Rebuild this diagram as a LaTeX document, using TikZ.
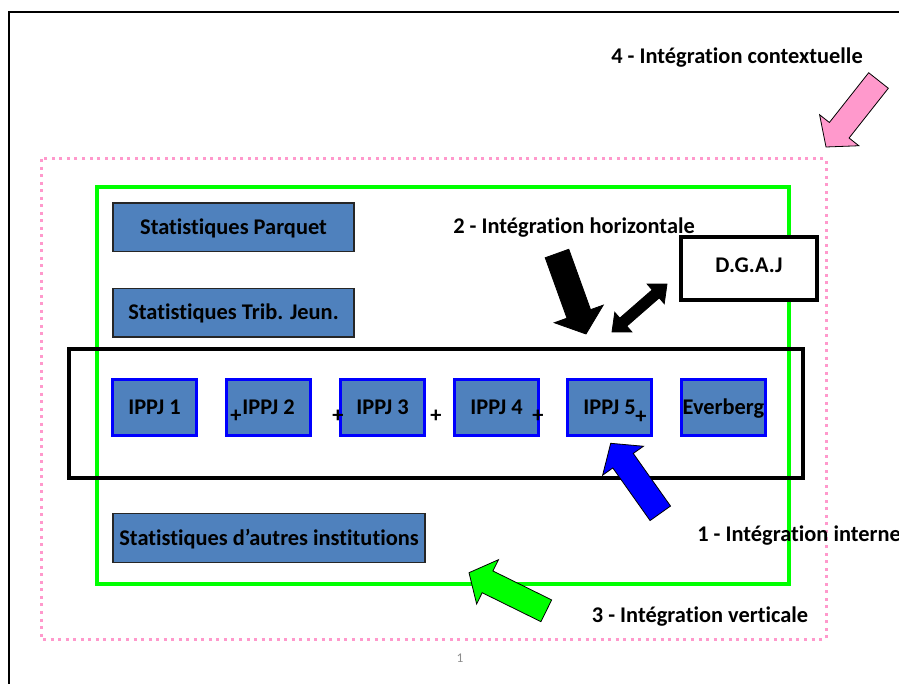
\documentclass[tikz,border=0pt]{standalone}
\usepackage{fontspec}
\setmainfont{Carlito}[Ligatures=NoCommon]
\usetikzlibrary{calc}
\definecolor{boxblue}{RGB}{79,129,189}
\definecolor{pinkd}{RGB}{255,153,204}
\definecolor{lgreen}{RGB}{0,255,0}
\definecolor{ippjblue}{RGB}{0,0,255}
% block arrow: #1 tail, #2 tip, #3 shaft half width, #4 head half width, #5 head length, #6 style
\newcommand\blkarrow[6]{%
  \coordinate (bh) at ($(#2)!#5!(#1)$);
  \draw[#6] ($(#1)!#3!90:(#2)$) -- ($(bh)!#3!-90:(#1)$) -- ($(bh)!#4!-90:(#1)$) -- (#2)
    -- ($(bh)!#4!90:(#1)$) -- ($(bh)!#3!90:(#1)$) -- ($(#1)!#3!-90:(#2)$) -- cycle;}
% double block arrow: #1 end A, #2 end B, #3 shaft half, #4 head half, #5 head length, #6 style
\newcommand\dblarrow[6]{%
  \coordinate (ha) at ($(#1)!#5!(#2)$);
  \coordinate (hb) at ($(#2)!#5!(#1)$);
  \draw[#6] (#1) -- ($(ha)!#4!90:(#2)$) -- ($(ha)!#3!90:(#2)$) -- ($(hb)!#3!-90:(#1)$)
    -- ($(hb)!#4!-90:(#1)$) -- (#2) -- ($(hb)!#4!90:(#1)$) -- ($(hb)!#3!90:(#1)$)
    -- ($(ha)!#3!-90:(#2)$) -- ($(ha)!#4!-90:(#2)$) -- cycle;}
\newcommand\lblfont{\bfseries\fontsize{16.8pt}{19pt}\selectfont}
\begin{document}
\begin{tikzpicture}[x=0.75pt,y=-0.75pt,
  lbl/.style={font=\lblfont, inner sep=0pt},
  stat/.style={draw=black!85, line width=1pt, fill=boxblue, inner sep=0pt,
    minimum height=36.5pt, font=\lblfont, text height=10.8pt, text depth=0pt},
  ippj/.style={draw=ippjblue, line width=2.25pt, fill=boxblue, inner sep=0pt,
    minimum width=63.5pt, minimum height=42pt, font=\lblfont, text height=10.8pt, text depth=0pt},
  plus/.style={font=\lblfont, inner sep=0pt},
  blk/.style={draw=black, line width=0.6pt, line join=miter}]
\useasboundingbox (0,0) rectangle (899,684);
% page frame
\draw[line width=1.6pt] (9,684) -- (9,12) -- (899,12);
% containers
\draw[pinkd, line width=2.25pt, dash pattern=on 2.25pt off 3.4pt] (41,159) rectangle (826,639);
\draw[lgreen, line width=2.4pt] (97,187) rectangle (789,584);
\draw[black, line width=2.4pt] (69,349) rectangle (803,478);
% boxes
\node[stat, minimum width=180.75pt] (sp) at (233.5,227.5) {Statistiques Parquet};
\node[stat, minimum width=180.75pt] (st) at (233.5,312.5) {Statistiques Trib. Jeun.};
\node[stat, minimum width=234pt] (sa) at (269,538) {Statistiques d’autres institutions};
\node[draw=black, line width=2.4pt, fill=white, minimum width=102pt, minimum height=47.25pt,
  inner sep=0pt, font=\lblfont, text height=10.8pt, text depth=5.2pt] (dgaj) at (749,268.5) {D.G.A.J};
\node[ippj] (i1) at (154.5,407) {IPPJ 1};
\node[ippj] (i2) at (268.5,407) {IPPJ 2};
\node[ippj] (i3) at (382.5,407) {IPPJ 3};
\node[ippj] (i4) at (496.5,407) {IPPJ 4};
\node[ippj] (i5) at (609.5,407) {IPPJ 5};
\node[ippj] (ev) at (723.5,407) {Everberg};
% plus signs
\node[plus] (p1) at (236,416) {+};
\node[plus] (p2) at (338,416) {+};
\node[plus] (p3) at (436,416) {+};
\node[plus] (p4) at (538,416) {+};
\node[plus] (p5) at (641,417) {+};
% labels
\node[lbl] (l4) at (737,58) {4 - Intégration contextuelle};
\node[lbl] (l2) at (574,228) {2 - Intégration horizontale};
\node[lbl, anchor=west] (l1) at (697,536) {1 - Intégration interne};
\node[lbl] (l3) at (700,617) {3 - Intégration verticale};
\node[text=black!45, font=\fontsize{10pt}{11pt}\selectfont, inner sep=0pt] (pg) at (460,658) {1};
% arrows
\coordinate (pinkT) at (878.5,80.5);  \coordinate (pinkP) at (826,147);
\coordinate (blkT) at (557,253.5);    \coordinate (blkP) at (586,334);
\coordinate (bluT) at (660.3,513.3);  \coordinate (bluP) at (610.7,443.3);
\coordinate (grnT) at (546.3,610.8);  \coordinate (grnP) at (469,572.7);
\coordinate (dA) at (612,332);        \coordinate (dB) at (667,284);
\blkarrow{pinkT}{pinkP}{9.4pt}{18.75pt}{16pt}{blk, fill=pinkd}
\blkarrow{blkT}{blkP}{9.4pt}{19.5pt}{16pt}{blk, fill=black}
\blkarrow{bluT}{bluP}{9.4pt}{18.75pt}{16pt}{blk, fill=ippjblue}
\blkarrow{grnT}{grnP}{9.1pt}{18.5pt}{15.5pt}{blk, fill=lgreen}
\dblarrow{dA}{dB}{4pt}{9.75pt}{11.25pt}{blk, fill=black}
\end{tikzpicture}
\end{document}
